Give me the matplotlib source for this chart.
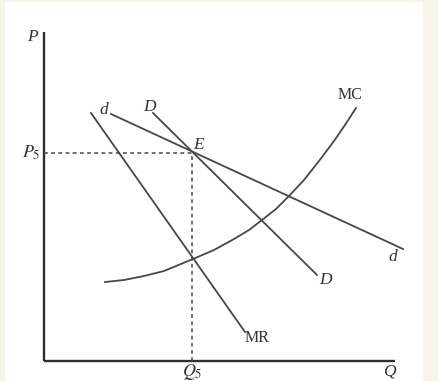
import matplotlib
matplotlib.use("Agg")
import matplotlib.pyplot as plt

plt.rcParams['font.family'] = ['Liberation Serif', 'DejaVu Serif']
plt.rcParams['mathtext.fontset'] = 'stix'

# curves (Q, P)
mr_q = [47, 201]
mr_p = [248, 29]
d_q = [67, 359]          # flat demand d
d_p = [247, 112]
D_q = [109, 273]         # steep demand D
D_p = [248, 86]
mc_q = [61, 80, 100, 120, 149, 170, 190, 205, 218, 232, 245, 260, 275, 290, 301, 312]
mc_p = [79, 81, 85, 90, 102, 111, 122, 131, 141, 152, 165, 181, 200, 220, 236, 253]
q5, p5 = 148, 208        # point E
q_max, p_max = 351, 329  # axis ends

line_col = '#474747'

fig = plt.figure(figsize=(4.39, 3.81), dpi=100, facecolor='#f6f4e7')
ax = fig.add_axes([5/439, 0, 418/439, 379/381])
ax.set_facecolor('white')
ax.set_xlim(-39, 379)
ax.set_ylim(-20, 359)
for s in ax.spines.values():
    s.set_visible(False)
ax.set_xticks([])
ax.set_yticks([])

# axes
ax.plot([0, 0], [0, p_max], color='#2e2e2e', lw=1.7, solid_capstyle='butt')
ax.plot([0, q_max], [0, 0], color='#2e2e2e', lw=1.7, solid_capstyle='butt')

# dashed guides
ax.plot([0, q5], [p5, p5], color=line_col, lw=1.1, ls=(0, (2.5, 2.2)))
ax.plot([q5, q5], [0, p5], color=line_col, lw=1.1, ls=(0, (2.5, 2.2)))

# curves
for qq, pp in [(mr_q, mr_p), (d_q, d_p), (D_q, D_p), (mc_q, mc_p)]:
    ax.plot(qq, pp, color=line_col, lw=1.3, solid_joinstyle='round')

it = dict(fontsize=12.5, color='#333333', style='italic')
up = dict(fontsize=11.5, color='#333333')
ax.text(-12, 324, 'P', ha='center', va='center', **it)
ax.text(-3, p5, r'$P_5$', ha='right', va='center', fontsize=13, color='#333333')
ax.text(q5, -11, r'$Q_5$', ha='center', va='center', fontsize=13, color='#333333')
ax.text(345, -11, 'Q', ha='center', va='center', **it)
ax.text(155, 216, 'E', ha='center', va='center', **it)
ax.text(60, 251, 'd', ha='center', va='center', **it)
ax.text(349, 104, 'd', ha='center', va='center', **it)
ax.text(105, 254, 'D', ha='center', va='center', **it)
ax.text(281, 81, 'D', ha='center', va='center', **it)
ax.text(213, 23, 'MR', ha='center', va='center', **up)
ax.text(306, 266, 'MC', ha='center', va='center', **up)

fig.savefig('out.png', dpi=100, facecolor=fig.get_facecolor())
